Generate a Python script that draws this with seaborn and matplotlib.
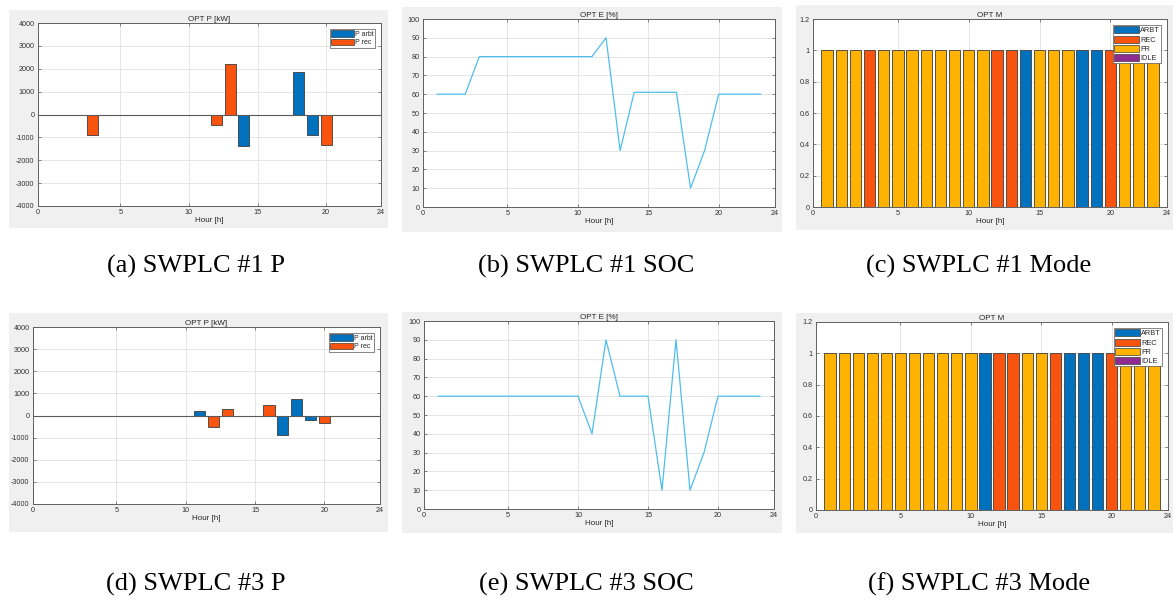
import numpy as np
import pandas as pd
import matplotlib
matplotlib.use("Agg")
import matplotlib.pyplot as plt
from matplotlib.patches import Patch, Rectangle
import seaborn as sns

# ---- data ----
hours = list(range(24))

p1_arbt = [0, 0, 0, 0, 0, 0, 0, 0, 0, 0, 0, 0, 0, 0, -1390, 0, 0, 0, 1870, -890, 0, 0, 0, 0]
p1_rec = [0, 0, 0, -880, 0, 0, 0, 0, 0, 0, 0, 0, -440, 2190, 0, 0, 0, 0, 0, 0, -1330, 0, 0, 0]
p3_arbt = [0, 0, 0, 0, 0, 0, 0, 0, 0, 0, 0, 210, 0, 0, 0, 0, 0, -885, 735, -225, 0, 0, 0, 0]
p3_rec = [0, 0, 0, 0, 0, 0, 0, 0, 0, 0, 0, 0, -540, 285, 0, 0, 465, 0, 0, 0, -330, 0, 0, 0]

soc1 = [60, 60, 60, 80, 80, 80, 80, 80, 80, 80, 80, 80, 90, 30, 61, 61, 61, 61, 10, 30, 60, 60, 60, 60]
soc3 = [60, 60, 60, 60, 60, 60, 60, 60, 60, 60, 60, 40, 90, 60, 60, 60, 10, 90, 10, 30, 60, 60, 60, 60]

mode1 = ['FR', 'FR', 'FR', 'REC', 'FR', 'FR', 'FR', 'FR', 'FR', 'FR', 'FR', 'FR',
         'REC', 'REC', 'ARBT', 'FR', 'FR', 'FR', 'ARBT', 'ARBT', 'REC', 'FR', 'FR', 'FR']
mode3 = ['FR', 'FR', 'FR', 'FR', 'FR', 'FR', 'FR', 'FR', 'FR', 'FR', 'FR', 'ARBT',
         'REC', 'REC', 'FR', 'FR', 'REC', 'ARBT', 'ARBT', 'ARBT', 'REC', 'FR', 'FR', 'FR']

mode_names = ['ARBT', 'REC', 'FR', 'IDLE']
p_names = ['P arbt', 'P rec']

x_ticks = [-1, 5, 10, 15, 20, 24]
x_labels = ['0', '5', '10', '15', '20', '24']

captions = ['(a) SWPLC #1 P', '(b) SWPLC #1 SOC', '(c) SWPLC #1 Mode',
            '(d) SWPLC #3 P', '(e) SWPLC #3 SOC', '(f) SWPLC #3 Mode']

# ---- style ----
BLUE = '#0072BD'
ORANGE = '#F8540F'
YELLOW = '#FFB200'
PURPLE = '#8E2C91'
LINE = '#4DBEEE'
EDGE = '#3c3c3c'
mode_colors = dict(zip(mode_names, [BLUE, ORANGE, YELLOW, PURPLE]))
p_colors = dict(zip(p_names, [BLUE, ORANGE]))

sns.set_theme(style="white")
plt.rcParams['font.family'] = ['Liberation Sans', 'DejaVu Sans']
plt.rcParams['axes.unicode_minus'] = False

W, H = 1173, 613
fig = plt.figure(figsize=(W / 100, H / 100), dpi=100)


def rect(l, t, r, b):
    return [l / W, 1 - b / H, (r - l) / W, (b - t) / H]


def panel(l, t, r, b):
    fig.patches.append(Rectangle((l / W, 1 - b / H), (r - l) / W, (b - t) / H,
                                 transform=fig.transFigure, facecolor='#f0f0f0',
                                 edgecolor='none', zorder=-10))


def matlab_axes(ax, title):
    ax.set_xlim(-1, 24)
    ax.set_xticks(x_ticks)
    ax.set_xticklabels(x_labels)
    ax.set_title(title, fontsize=5.8, pad=1.5, color='#262626')
    ax.set_xlabel('Hour [h]', fontsize=5.8, labelpad=0.5, color='#262626')
    ax.set_ylabel('')
    ax.grid(True, color='#e2e2e2', lw=0.6)
    ax.set_axisbelow(True)
    ax.tick_params(direction='in', length=2.5, width=0.5, labelsize=5.2,
                   colors='#555555', labelcolor='#333333', pad=2.5,
                   top=True, right=True, bottom=True, left=True)
    for s in ax.spines.values():
        s.set_color('#606060')
        s.set_linewidth(0.7)
    ax.set_facecolor('white')


def legend(ax, names, colors, fs):
    handles = [Patch(facecolor=colors[n], edgecolor=EDGE, linewidth=0.5) for n in names]
    leg = ax.legend(handles, names, loc='upper right', fontsize=fs, frameon=True,
                    fancybox=False, framealpha=1, edgecolor='#555555',
                    handlelength=3.3, handleheight=1.1, handletextpad=0.15,
                    labelspacing=0.15, borderpad=0.2, borderaxespad=0.8)
    leg.get_frame().set_linewidth(0.5)


def draw_power(ax, arbt, rec):
    df = pd.DataFrame({'hour': hours * 2, 'kw': arbt + rec,
                       'series': ['P arbt'] * 24 + ['P rec'] * 24})
    df = df[df['kw'] != 0]
    sns.barplot(data=df, x='hour', y='kw', hue='series', hue_order=p_names,
                palette=p_colors, dodge=False, native_scale=True, width=0.8,
                saturation=1, errorbar=None, edgecolor=EDGE, linewidth=0.6,
                legend=False, ax=ax)
    ax.axhline(0, color='#5a5a5a', lw=0.8, zorder=3)
    ax.set_ylim(-4000, 4000)
    ax.set_yticks(range(-4000, 4001, 1000))
    matlab_axes(ax, 'OPT P [kW]')
    legend(ax, p_names, p_colors, 5.0)


def draw_soc(ax, soc):
    sns.lineplot(x=hours, y=soc, color=LINE, linewidth=0.9, ax=ax)
    ax.set_ylim(0, 100)
    ax.set_yticks(range(0, 101, 10))
    matlab_axes(ax, 'OPT E [%]')


def draw_mode(ax, modes):
    df = pd.DataFrame({'hour': hours, 'on': [1] * 24, 'mode': modes})
    sns.barplot(data=df, x='hour', y='on', hue='mode', hue_order=mode_names,
                palette=mode_colors, dodge=False, native_scale=True, width=0.8,
                saturation=1, errorbar=None, edgecolor=EDGE, linewidth=0.6,
                legend=False, ax=ax)
    ax.set_ylim(0, 1.2)
    ax.set_yticks([0, 0.2, 0.4, 0.6, 0.8, 1.0, 1.2])
    ax.set_yticklabels(['0', '0.2', '0.4', '0.6', '0.8', '1', '1.2'])
    matlab_axes(ax, 'OPT M')
    legend(ax, mode_names, mode_colors, 5.3)


# gray figure backgrounds of each MATLAB screenshot
panels = [(9, 10, 388, 228), (402, 7, 782, 232), (796, 5, 1173, 230),
          (9, 313, 388, 532), (402, 312, 782, 533), (796, 313, 1173, 533)]
for p in panels:
    panel(*p)

ax_a = fig.add_axes(rect(38, 23, 381, 206))
ax_b = fig.add_axes(rect(423, 19, 775, 207))
ax_c = fig.add_axes(rect(813, 19, 1167, 207))
ax_d = fig.add_axes(rect(33, 327, 380, 504))
ax_e = fig.add_axes(rect(424, 321, 774, 509))
ax_f = fig.add_axes(rect(816, 322, 1168, 510))

draw_power(ax_a, p1_arbt, p1_rec)
draw_soc(ax_b, soc1)
draw_mode(ax_c, mode1)
draw_power(ax_d, p3_arbt, p3_rec)
draw_soc(ax_e, soc3)
draw_mode(ax_f, mode3)

# sub-figure captions
cap_pos = [(196, 266), (586, 266), (979, 266), (196, 584), (586, 584), (979, 584)]
for (cx, cy), txt in zip(cap_pos, captions):
    fig.text(cx / W, 1 - cy / H, txt, ha='center', va='center', fontsize=19,
             family=['Liberation Serif', 'DejaVu Serif'], color='black')

fig.savefig('out.png', dpi=100)
